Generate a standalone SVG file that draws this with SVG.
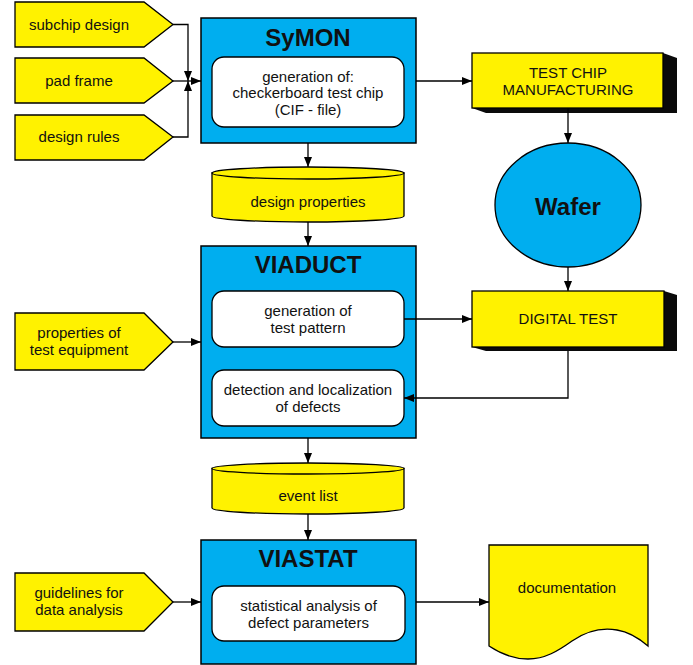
<svg xmlns="http://www.w3.org/2000/svg" width="693" height="665" viewBox="0 0 693 665">
<style>
.in{fill:#fff200;stroke:#000;stroke-width:1.3}
.blue{fill:#00aeef;stroke:#000;stroke-width:1.5}
.inner{fill:#fff;stroke:#000;stroke-width:1.3}
.yel{fill:#fff200;stroke:#000;stroke-width:1.3}
.sh{fill:#0a0a0a}
.t{font-family:"Liberation Sans",Arial,sans-serif;font-size:15px;fill:#111;text-anchor:middle}
.tb{font-family:"Liberation Sans",Arial,sans-serif;font-size:24px;font-weight:bold;fill:#111;text-anchor:middle}
.c{fill:none;stroke:#000;stroke-width:1.3}
</style>
<defs>
<marker id="ah" viewBox="0 0 10 8" refX="10" refY="4" markerWidth="10" markerHeight="8" markerUnits="userSpaceOnUse" orient="auto">
<path d="M0,0 L10,4 L0,8 Z" fill="#000"/>
</marker>
</defs>

<g id="subchip">
<polygon class="in" points="15,2 144,2 173,24.5 144,47 15,47"/>
<text class="t" x="79" y="30">subchip design</text>
</g>
<g id="padframe">
<polygon class="in" points="15,58 144,58 173,81 144,103 15,103"/>
<text class="t" x="79" y="86">pad frame</text>
</g>
<g id="designrules">
<polygon class="in" points="15,115 144,115 173,137 144,160 15,160"/>
<text class="t" x="79" y="142">design rules</text>
</g>

<g id="symon">
<rect class="blue" x="201" y="18" width="215" height="125"/>
<text class="tb" x="308" y="46">SyMON</text>
<rect class="inner" x="212" y="57" width="192" height="70" rx="12"/>
<text class="t" x="308" y="82">generation of:</text>
<text class="t" x="308" y="98">checkerboard test chip</text>
<text class="t" x="308" y="115">(CIF - file)</text>
</g>

<g id="testchip">
<polygon class="sh" points="663,53 677,58 677,113 486,113 472,108"/>
<rect class="yel" x="472" y="53" width="191" height="55"/>
<text class="t" x="568" y="78">TEST CHIP</text>
<text class="t" x="568" y="95">MANUFACTURING</text>
</g>

<g id="wafer">
<ellipse class="blue" cx="568" cy="205" rx="73" ry="62" style="stroke-width:1.3"/>
<text class="tb" x="568" y="215">Wafer</text>
</g>

<g id="designprops">
<path class="yel" d="M212,173 V216 A96,6 0 0 0 404,216 V173 Z"/>
<ellipse class="yel" cx="308" cy="173" rx="96" ry="6"/>
<text class="t" x="308" y="207">design properties</text>
</g>

<g id="viaduct">
<rect class="blue" x="201" y="246" width="215" height="192"/>
<text class="tb" x="308" y="273">VIADUCT</text>
<rect class="inner" x="212" y="291" width="192" height="56" rx="12"/>
<text class="t" x="308" y="316">generation of</text>
<text class="t" x="308" y="333">test pattern</text>
<rect class="inner" x="212" y="370" width="192" height="56" rx="12"/>
<text class="t" x="308" y="395">detection and localization</text>
<text class="t" x="308" y="412">of defects</text>
</g>

<g id="testequip">
<polygon class="in" points="15,313 144,313 173,342 144,370 15,370"/>
<text class="t" x="79" y="338">properties of</text>
<text class="t" x="79" y="355">test equipment</text>
</g>

<g id="digitaltest">
<polygon class="sh" points="664,291 677,295 677,351 486,351 472,347"/>
<rect class="yel" x="472" y="291" width="192" height="56"/>
<text class="t" x="568" y="324">DIGITAL TEST</text>
</g>

<g id="eventlist">
<path class="yel" d="M212,468.5 V508 A96,6 0 0 0 404,508 V468.5 Z"/>
<ellipse class="yel" cx="308" cy="468.5" rx="96" ry="5.5"/>
<text class="t" x="308" y="501">event list</text>
</g>

<g id="viastat">
<rect class="blue" x="201" y="540" width="215" height="124"/>
<text class="tb" x="308" y="567">VIASTAT</text>
<rect class="inner" x="212" y="586" width="193" height="55" rx="12"/>
<text class="t" x="308.5" y="611">statistical analysis of</text>
<text class="t" x="308.5" y="628">defect parameters</text>
</g>

<g id="guidelines">
<polygon class="in" points="15,573 144,573 173,602 144,631 15,631"/>
<text class="t" x="79" y="598">guidelines for</text>
<text class="t" x="79" y="615">data analysis</text>
</g>

<g id="documentation">
<path class="yel" d="M489,545 H648 V646 C641,640 630,632 617,630 C600,627 585,632 572,641 C558,651 545,659 528,659 C512,659 498,652 489,646 Z"/>
<text class="t" x="567" y="593">documentation</text>
</g>

<g id="connectors">
<path class="c" d="M173,24.5 H188 V81" marker-end="url(#ah)"/>
<path class="c" d="M173,137 H188 V81" marker-end="url(#ah)"/>
<path class="c" d="M173,81 H201" marker-end="url(#ah)"/>
<path class="c" d="M416,81 H472" marker-end="url(#ah)"/>
<path class="c" d="M568,108 V143" marker-end="url(#ah)"/>
<path class="c" d="M568,267 V291" marker-end="url(#ah)"/>
<path class="c" d="M308,143 V167" marker-end="url(#ah)"/>
<path class="c" d="M308,222 V246" marker-end="url(#ah)"/>
<path class="c" d="M173,342 H201" marker-end="url(#ah)"/>
<path class="c" d="M404,319 H472" marker-end="url(#ah)"/>
<path class="c" d="M568,351 V398 H404" marker-end="url(#ah)"/>
<path class="c" d="M308,438 V463" marker-end="url(#ah)"/>
<path class="c" d="M308,514 V540" marker-end="url(#ah)"/>
<path class="c" d="M173,602 H201" marker-end="url(#ah)"/>
<path class="c" d="M416,602 H489" marker-end="url(#ah)"/>
</g>
</svg>
